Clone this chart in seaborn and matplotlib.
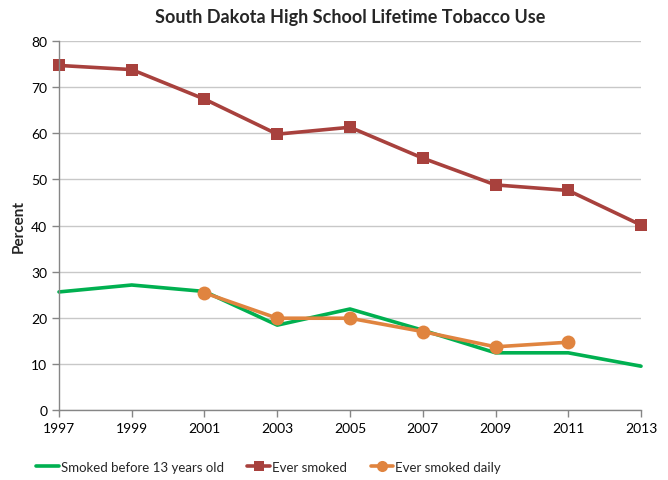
import numpy as np
import pandas as pd
import matplotlib
matplotlib.use('Agg')
import matplotlib.pyplot as plt
import seaborn as sns

years = [1997, 1999, 2001, 2003, 2005, 2007, 2009, 2011, 2013]
before13 = [25.6, 27.1, 25.7, 18.4, 21.9, 17.3, 12.4, 12.4, 9.5]
ever_smoked = [74.7, 73.8, 67.4, 59.8, 61.3, 54.6, 48.8, 47.6, 40.1]
ever_daily = [np.nan, np.nan, 25.4, 19.9, 19.9, 17.0, 13.7, 14.7, np.nan]

sns.set_theme(style='white')
plt.rcParams['font.family'] = ['Lato', 'DejaVu Sans']

fig = plt.figure(figsize=(6.68, 4.81), dpi=100)
ax = fig.add_axes([0.0883, 0.1455, 0.8713, 0.7672])

sns.lineplot(x=years, y=before13, ax=ax, color='#00B050', linewidth=2.6,
             label='Smoked before 13 years old', clip_on=False)
sns.lineplot(x=years, y=ever_smoked, ax=ax, color='#A8413D', linewidth=2.6,
             marker='s', markersize=9, markeredgewidth=0, label='Ever smoked',
             clip_on=False)
sns.lineplot(x=years, y=ever_daily, ax=ax, color='#E0843F', linewidth=2.6,
             marker='o', markersize=10, markeredgewidth=0, label='Ever smoked daily',
             clip_on=False)

ax.set_xlim(1997, 2013)
ax.set_ylim(0, 80)
ax.set_xticks(years)
ax.set_yticks(range(0, 81, 10))
ax.yaxis.grid(True, color='#C8C8C8', linewidth=1)
ax.set_axisbelow(True)
for s in ['top', 'right']:
    ax.spines[s].set_visible(False)
for s in ['left', 'bottom']:
    ax.spines[s].set_color('#868686')
    ax.spines[s].set_linewidth(1)
ax.tick_params(axis='both', labelsize=10, colors='#868686', labelcolor='black',
               length=5, width=1, direction='out', bottom=True, left=True)

ax.set_ylabel('Percent', fontsize=11, fontweight='bold')
ax.set_xlabel('')
ax.set_title('South Dakota High School Lifetime Tobacco Use', fontsize=13,
             fontweight='bold', pad=14)

leg = ax.legend(loc='upper center', bbox_to_anchor=(0.36, -0.105), ncol=3, frameon=False,
                fontsize=9.5, handlelength=1.7, handletextpad=0.15, columnspacing=1.8,
                markerscale=0.8)

fig.savefig('out.png', dpi=100)
